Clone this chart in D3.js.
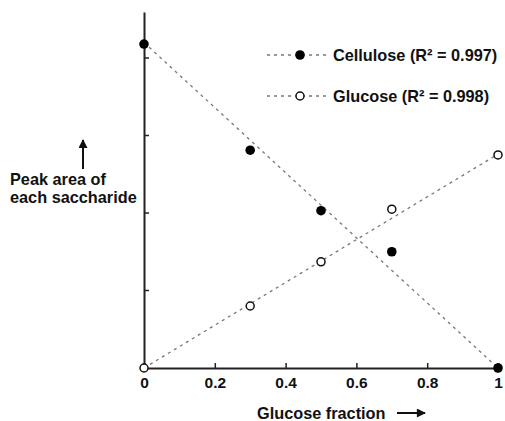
<!DOCTYPE html>
<meta charset="utf-8">
<style>
body { margin: 0; background: #fff; }
text { font-family: "Liberation Sans", Arial, sans-serif; font-weight: bold; fill: #111; }
</style>
<body>
<script src="https://d3js.org/d3.v7.min.js"></script>
<script>
// data
var fractions = [0, 0.3, 0.5, 0.7, 1];
var cellulose = [4.18, 2.81, 2.03, 1.50, 0];
var glucose   = [0, 0.80, 1.37, 2.05, 2.75];
// fitted lines (end points at fraction 0 and 1)
var fitX = [0, 1];
var celluloseFit = [4.2, 0];
var glucoseFit = [0, 2.76];
var xTicks = [0, 0.2, 0.4, 0.6, 0.8, 1];
var yTicks = [1, 2, 3, 4];
var seriesNames = ["Cellulose (R\u00b2 = 0.997)", "Glucose (R\u00b2 = 0.998)"];

var width = 505, height = 421;
var x = d3.scaleLinear().domain([0, 1]).range([144, 498]);
var y = d3.scaleLinear().domain([0, 4]).range([368, 58]);

var svg = d3.select("body").append("svg")
    .attr("width", width)
    .attr("height", height);

// fit lines
var line = d3.line()
    .x(function(d) { return x(d[0]); })
    .y(function(d) { return y(d[1]); });

[celluloseFit, glucoseFit].forEach(function(f) {
  svg.append("path")
      .datum(fitX.map(function(v, i) { return [v, f[i]]; }))
      .attr("d", line)
      .attr("fill", "none")
      .attr("stroke", "#777")
      .attr("stroke-width", 1.3)
      .attr("stroke-dasharray", "3,4");
});

// axes
var xAxis = svg.append("g")
    .attr("transform", "translate(0,368)")
    .call(d3.axisBottom(x).tickValues(xTicks).tickSize(-5).tickPadding(9)
      .tickFormat(function(d) { return d === 0 || d === 1 ? d : d3.format(".1f")(d); }));
xAxis.select(".domain").attr("stroke", "#222").attr("stroke-width", 2);
xAxis.selectAll(".tick line").attr("stroke", "#222").attr("stroke-width", 1.5);
xAxis.selectAll("text").style("font-size", "15.5px").attr("fill", "#111");

var yAxis = svg.append("g")
    .attr("transform", "translate(144,0)")
    .call(d3.axisLeft(y.copy().domain([0, 4.6]).range([368, 12])).tickValues([]).tickSizeOuter(0));
yAxis.select(".domain").attr("stroke", "#222").attr("stroke-width", 2);
svg.append("g").selectAll("line")
    .data(yTicks)
  .enter().append("line")
    .attr("x1", 144).attr("x2", 149)
    .attr("y1", function(d) { return y(d); })
    .attr("y2", function(d) { return y(d); })
    .attr("stroke", "#222").attr("stroke-width", 1.5);

// points
svg.append("g").selectAll("circle")
    .data(fractions)
  .enter().append("circle")
    .attr("cx", function(d) { return x(d); })
    .attr("cy", function(d, i) { return y(glucose[i]); })
    .attr("r", 4)
    .attr("fill", "#fff")
    .attr("stroke", "#111")
    .attr("stroke-width", 1.5);

svg.append("g").selectAll("circle")
    .data(fractions)
  .enter().append("circle")
    .attr("cx", function(d) { return x(d); })
    .attr("cy", function(d, i) { return y(cellulose[i]); })
    .attr("r", 4.8)
    .attr("fill", "#000");

// legend
var legend = svg.append("g").selectAll("g")
    .data(seriesNames)
  .enter().append("g")
    .attr("transform", function(d, i) { return "translate(267," + (55 + i * 41) + ")"; });
legend.append("line")
    .attr("x1", 0).attr("x2", 63)
    .attr("stroke", "#777").attr("stroke-width", 1.3)
    .attr("stroke-dasharray", "3,4");
legend.append("circle")
    .attr("cx", 33).attr("r", function(d, i) { return i ? 4 : 4.8; })
    .attr("fill", function(d, i) { return i ? "#fff" : "#000"; })
    .attr("stroke", "#111").attr("stroke-width", function(d, i) { return i ? 1.5 : 0; });
legend.append("text")
    .attr("x", 66).attr("y", 6)
    .style("font-size", "16.3px")
    .text(function(d) { return d; });

// y label with arrow
svg.append("text").attr("x", 10).attr("y", 185).style("font-size", "16.3px").text("Peak area of");
svg.append("text").attr("x", 10).attr("y", 203).style("font-size", "16.3px").text("each saccharide");
svg.append("defs").append("marker")
    .attr("id", "ah").attr("viewBox", "0 0 10 10")
    .attr("refX", 9).attr("refY", 5)
    .attr("markerWidth", 5).attr("markerHeight", 4.5)
    .attr("markerUnits", "strokeWidth")
    .attr("orient", "auto")
  .append("path").attr("d", "M0,0L10,5L0,10z").attr("fill", "#111");
svg.append("line")
    .attr("x1", 83).attr("x2", 83).attr("y1", 169).attr("y2", 140)
    .attr("stroke", "#111").attr("stroke-width", 2)
    .attr("marker-end", "url(#ah)");

// x label with arrow
svg.append("text").attr("x", 257).attr("y", 419).style("font-size", "16.3px").text("Glucose fraction");
svg.append("line")
    .attr("x1", 397).attr("x2", 425).attr("y1", 413).attr("y2", 413)
    .attr("stroke", "#111").attr("stroke-width", 2)
    .attr("marker-end", "url(#ah)");
</script>
</body>
